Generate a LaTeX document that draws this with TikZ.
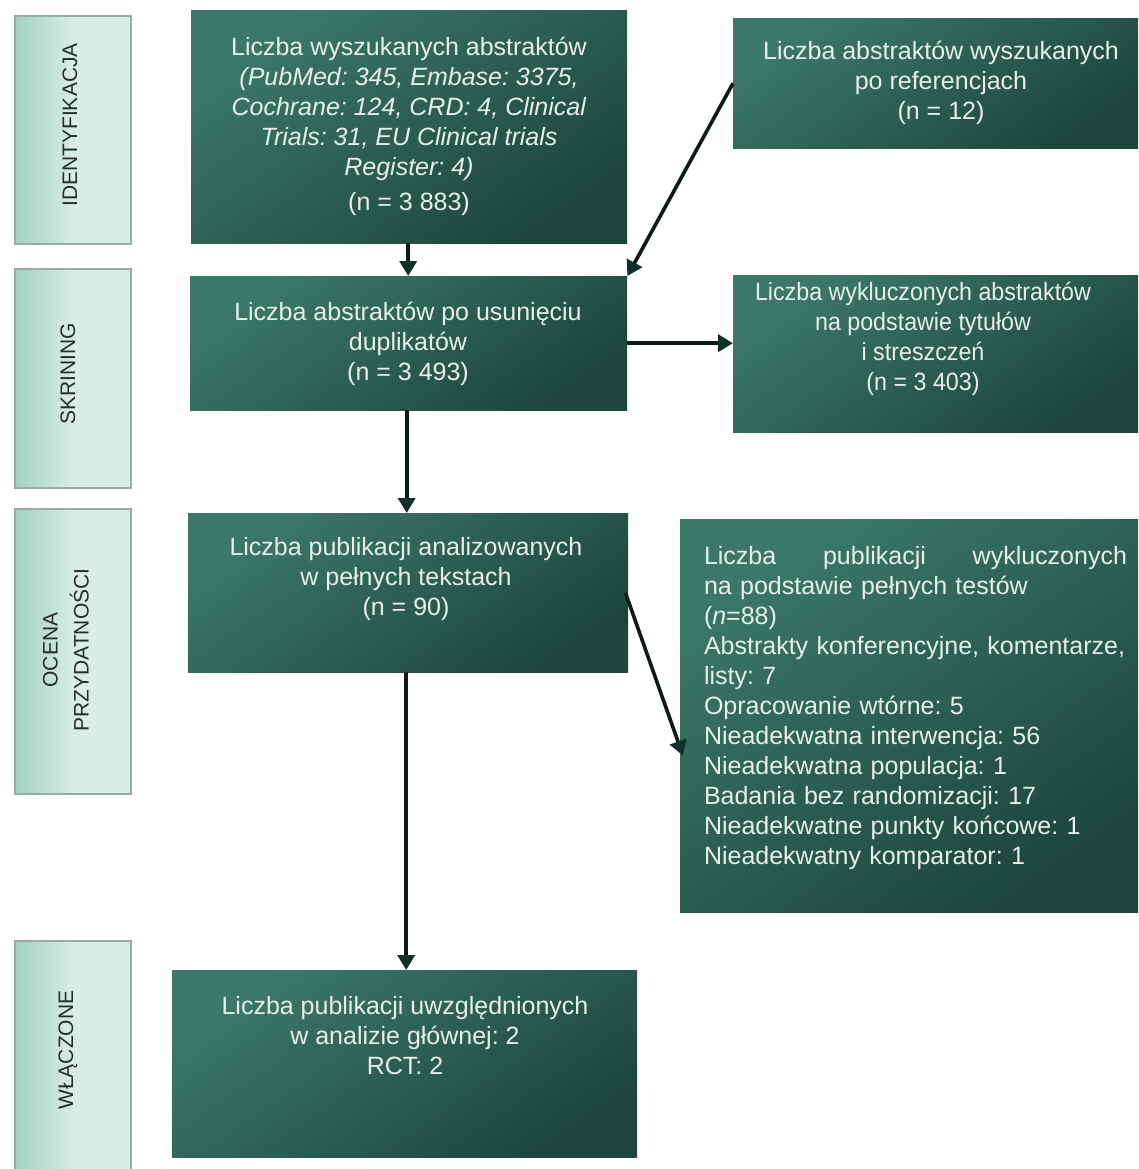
\documentclass[tikz,border=0pt]{standalone}
\usepackage{fontspec}
\setmainfont{Liberation Sans}
\usetikzlibrary{arrows.meta,calc}
\definecolor{boxlight}{HTML}{3B7868}
\definecolor{boxdark}{HTML}{1D453B}
\definecolor{boxtext}{HTML}{E6F0EA}
\definecolor{lablight}{HTML}{D8EDE6}
\definecolor{labdark}{HTML}{A2D1C0}
\definecolor{labedge}{HTML}{98ABA4}
\definecolor{labtext}{HTML}{262D2A}
\definecolor{arrowcol}{HTML}{0E1A16}
\definecolor{tipcol}{HTML}{10302A}
\begin{document}
\frenchspacing
\begin{tikzpicture}[x=1pt,y=-1pt,
  greenbox/.style={draw=none, inner sep=0pt, anchor=north west,
    top color=boxlight, bottom color=boxdark, shading angle=35},
  labbox/.style={draw=labedge, line width=2pt, inner sep=0pt, anchor=north west,
    left color=labdark, right color=lablight, middle color=lablight},
  boxtxt/.style={text=boxtext, font=\fontsize{25}{30}\selectfont\frenchspacing, align=center, inner sep=0pt},
  labtxt/.style={text=labtext, font=\fontsize{21}{31}\selectfont, align=center, inner sep=0pt, rotate=90},
  flow/.style={line width=3.6pt, draw=arrowcol, -{Triangle[length=15pt,width=17pt,color=tipcol]}}
]
\useasboundingbox (0,0) rectangle (1138,1169);
\fill[white] (0,0) rectangle (1138,1169);

% phase labels
\node[labbox, minimum width=116pt, minimum height=228pt] (lab1) at (14,15) {};
\node[labbox, minimum width=116pt, minimum height=219pt] (lab2) at (14,268) {};
\node[labbox, minimum width=116pt, minimum height=285pt] (lab3) at (14,508) {};
\node[labbox, minimum width=116pt, minimum height=235pt] (lab4) at (14,940) {};
\node[labtxt] (lab1t) at (70,125) {IDENTYFIKACJA};
\node[labtxt] (lab2t) at (68,374) {SKRINING};
\node[labtxt] (lab3t) at (66,650) {OCENA\\PRZYDATNOŚCI};
\node[labtxt] (lab4t) at (68,1050) {WŁĄCZONE};

% boxes
\node[greenbox, minimum width=436pt, minimum height=233pt] (box1) at (191,10) {};
\node[greenbox, minimum width=405pt, minimum height=130pt] (ref) at (733,18) {};
\node[greenbox, minimum width=437pt, minimum height=134pt] (box2) at (190,276) {};
\node[greenbox, minimum width=405pt, minimum height=157pt] (excl1) at (733,275) {};
\node[greenbox, minimum width=440pt, minimum height=159pt] (box3) at (188,513) {};
\node[greenbox, minimum width=458pt, minimum height=393pt] (excl2) at (680,519) {};
\node[greenbox, minimum width=465pt, minimum height=187pt] (box4) at (172,970) {};

% texts
\node[boxtxt] (box1t) at (409,126) {Liczba wyszukanych abstraktów\\
  \textit{(PubMed: 345, Embase: 3375,}\\
  \textit{Cochrane: 124, CRD: 4, Clinical}\\
  \textit{Trials: 31, EU Clinical trials}\\
  \textit{Register: 4)}\\[5pt]
  (n = 3 883)};
\node[boxtxt] (reft) at (941,83) {Liczba abstraktów wyszukanych\\po referencjach\\(n = 12)};
\node[boxtxt] (box2t) at (408,344) {Liczba abstraktów po usunięciu\\duplikatów\\(n = 3 493)};
\node[boxtxt, xscale=0.93, transform shape] (excl1t) at (923,339) {Liczba wykluczonych abstraktów\\na podstawie tytułów\\i streszczeń\\(n = 3 403)};
\node[boxtxt] (box3t) at (406,579) {Liczba publikacji analizowanych\\w pełnych tekstach\\(n = 90)};
\node[boxtxt, align=left, text width=430pt] (excl2t) at (919,708) {\hbox to 423pt{Liczba\hfill publikacji\hfill wykluczonych}\\
  na podstawie pełnych testów\\
  (\textit{n}=88)\\
  Abstrakty konferencyjne, komentarze,\\
  listy: 7\\
  Opracowanie wtórne: 5\\
  Nieadekwatna interwencja: 56\\
  Nieadekwatna populacja: 1\\
  Badania bez randomizacji: 17\\
  Nieadekwatne punkty końcowe: 1\\
  Nieadekwatny komparator: 1};
\node[boxtxt] (box4t) at (405,1036) {Liczba publikacji uwzględnionych\\w analizie głównej: 2\\RCT: 2};

% connectors
\draw[flow] ($(box1.south)+(-1,0)$) -- ($(box1.south |- box2.north)+(-1,0)$);
\draw[flow] (ref.west) -- (box2.north east);
\draw[flow] (box2.east) -- (box2.east -| excl1.west);
\draw[flow] ($(box2.south)+(-2,0)$) -- ($(box2.south |- box3.north)+(-2,0)$);
\draw[flow] ($(box3.east)+(-3,0)$) -- ($(excl2.west)+(3,40)$);
\draw[flow] ($(box3.south)+(-2,0)$) -- ($(box3.south |- box4.north)+(-2,0)$);
\end{tikzpicture}
\end{document}
